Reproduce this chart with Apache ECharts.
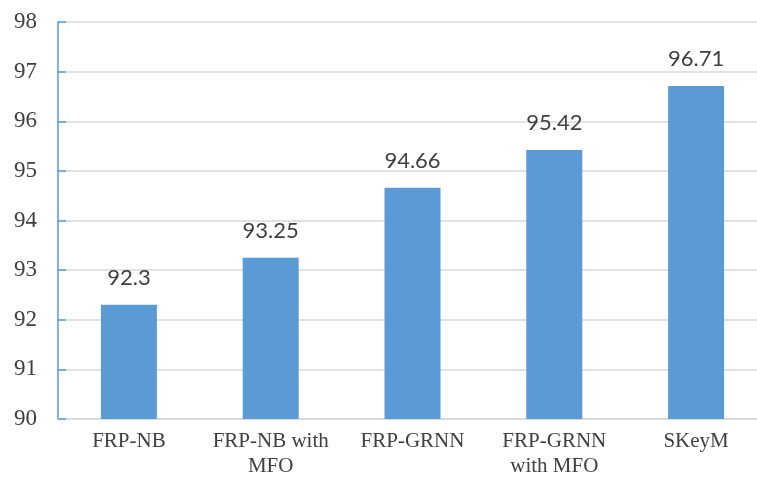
<!DOCTYPE html>
<html>
<head>
<meta charset="utf-8">
<script src="https://cdn.jsdelivr.net/npm/echarts@6/dist/echarts.min.js"></script>
<style>
  html, body { margin: 0; padding: 0; background: #fff; }
  #chart { width: 757px; height: 482px; }
</style>
</head>
<body>
<div id="chart"></div>
<script>
// Accuracy (%) per method
const categories = ['FRP-NB', 'FRP-NB with\nMFO', 'FRP-GRNN', 'FRP-GRNN\nwith MFO', 'SKeyM'];
const accuracy = [92.3, 93.25, 94.66, 95.42, 96.71];
const yMin = 90, yMax = 98, yStep = 1;

const chart = echarts.init(document.getElementById('chart'));
chart.setOption({
  animation: false,
  grid: { left: 58, top: 22, bottom: 63, right: -10, outerBoundsMode: 'none', containLabel: false },
  xAxis: {
    type: 'category',
    data: categories,
    axisLine: { lineStyle: { color: '#d9d9d9', width: 1.5 } },
    axisTick: { show: false },
    axisLabel: {
      fontFamily: 'Liberation Serif',
      fontSize: 21,
      color: '#404040',
      lineHeight: 25,
      margin: 10,
      interval: 0
    }
  },
  yAxis: {
    type: 'value',
    min: yMin, max: yMax, interval: yStep,
    axisLine: { show: true, lineStyle: { color: '#5b9bd5', width: 1.5 } },
    axisTick: { show: true, inside: true, length: 8, lineStyle: { color: '#5b9bd5', width: 1.5 } },
    splitLine: { lineStyle: { color: '#d9d9d9', width: 1.5 } },
    axisLabel: {
      fontFamily: 'Liberation Serif',
      fontSize: 23,
      color: '#404040',
      margin: 21
    }
  },
  series: [{
    type: 'bar',
    data: accuracy,
    barWidth: 56,
    itemStyle: { color: '#5b9bd5' },
    label: {
      show: true,
      position: 'top',
      distance: 16,
      fontFamily: 'Lato',
      fontSize: 22,
      color: '#404040'
    }
  }]
});
</script>
</body>
</html>
